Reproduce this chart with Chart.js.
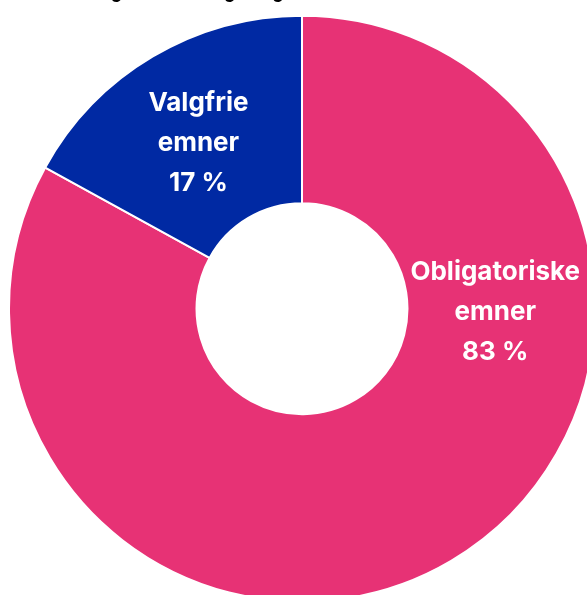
<!DOCTYPE html>
<html>
<head>
<meta charset="utf-8">
<script src="https://cdn.jsdelivr.net/npm/chart.js@4/dist/chart.umd.min.js"></script>
<style>
  html, body { margin: 0; padding: 0; background: #ffffff; overflow: hidden; width: 587px; height: 595px; }
  #wrap { position: absolute; left: 0; top: -34px; width: 604px; height: 637px; }
  canvas { display: block; }
</style>
</head>
<body>
<div id="wrap"><canvas id="c" width="604" height="637"></canvas></div>
<script>
const chartTitle = "Andel obligatoriske og valgfrie emner (antall emner totalt)";
const categories = ["Obligatoriske emner", "Valgfrie emner"];
const values = [83, 17];
const colors = ["#E73275", "#0029A3"];

const sliceLabels = {
  id: 'sliceLabels',
  afterDatasetsDraw(chart, args, opts) {
    const ctx = chart.ctx;
    const meta = chart.getDatasetMeta(0);
    ctx.save();
    ctx.fillStyle = '#ffffff';
    ctx.font = opts.font;
    ctx.textAlign = 'center';
    ctx.textBaseline = 'middle';
    meta.data.forEach((arc, i) => {
      const p = arc.getProps(['x', 'y', 'startAngle', 'endAngle', 'innerRadius', 'outerRadius'], true);
      const mid = (p.startAngle + p.endAngle) / 2;
      const a = mid + opts.angleShift[i];
      const r = (p.innerRadius + p.outerRadius) / 2 * opts.radiusFactor[i];
      const cx = p.x + r * Math.cos(a);
      const cy = p.y + r * Math.sin(a);
      const lines = categories[i].split(' ').concat([values[i] + ' %']);
      const lh = opts.lineHeight;
      lines.forEach((t, k) => {
        ctx.fillText(t, cx, cy + (k - (lines.length - 1) / 2) * lh);
      });
    });
    ctx.restore();
  }
};

new Chart(document.getElementById('c'), {
  type: 'doughnut',
  data: {
    labels: categories,
    datasets: [{
      data: values,
      backgroundColor: colors,
      borderColor: '#ffffff',
      borderWidth: 2,
      hoverOffset: 0
    }]
  },
  options: {
    responsive: false,
    animation: false,
    cutout: '36%',
    layout: { padding: { left: 8, right: 8, top: 0, bottom: 0 } },
    events: [],
    plugins: {
      legend: { display: false },
      tooltip: { enabled: false },
      title: {
        display: true,
        text: chartTitle,
        color: '#000000',
        font: { family: 'Inter, "Open Sans", sans-serif', size: 32, weight: 'bold', lineHeight: 1.2 },
        padding: { top: 0, bottom: 10 }
      },
      sliceLabels: {
        font: 'bold 26px Inter, "Open Sans", sans-serif',
        lineHeight: 40,
        angleShift: [-1.017, -0.025],
        radiusFactor: [0.97, 0.98]
      }
    }
  },
  plugins: [sliceLabels]
});
</script>
</body>
</html>
